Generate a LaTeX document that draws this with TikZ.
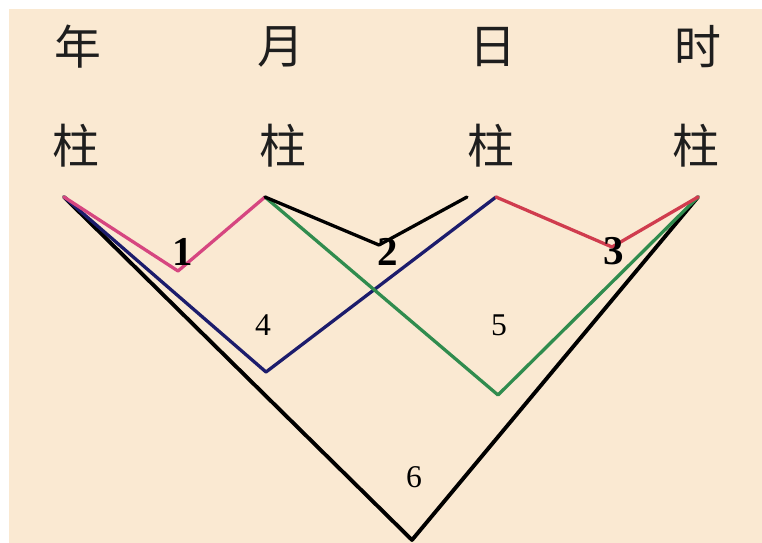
\documentclass[tikz,border=0pt]{standalone}
\usepackage{fontspec}
\setmainfont{Liberation Serif}
\newfontfamily\cjk{Noto Sans CJK SC}
\definecolor{bg_beige}{RGB}{250,233,210}
\definecolor{zhu_pink}{RGB}{214,70,128}
\definecolor{zhu_red}{RGB}{208,60,78}
\definecolor{zhu_blue}{RGB}{28,28,108}
\definecolor{zhu_green}{RGB}{48,140,78}
\definecolor{zhu_ink}{RGB}{30,30,30}

\begin{document}
\begin{tikzpicture}[x=0.03cm, y=-0.03cm,
        zi/.style={font=\cjk\fontsize{40}{40}\selectfont,
                   text=zhu_ink, inner sep=0pt},
        big/.style={font=\fontsize{35}{35}\selectfont\bfseries,
                    inner sep=0pt},
        small/.style={font=\fontsize{27}{27}\selectfont, inner sep=0pt},
        link/.style={line width=2.8pt, line join=round, line cap=round},
      ]
        \fill[white] (0,0) rectangle (762,543);
        \fill[bg_beige] (9,9) rectangle (762,543);
        \useasboundingbox (0,0) rectangle (762,543);

        \node[zi] (nian) at (78,47)  {年};
        \node[zi] (yue)  at (281,47) {月};
        \node[zi] (ri)   at (493,47) {日};
        \node[zi] (shi)  at (698,47) {时};
        \node[zi] (z1) at (76,146)  {柱};
        \node[zi] (z2) at (283,146) {柱};
        \node[zi] (z3) at (491,146) {柱};
        \node[zi] (z4) at (696,146) {柱};

        \coordinate (p1) at (64,197);
        \coordinate (p2) at (265,197);
        \coordinate (p3) at (496,197);
        \coordinate (p4) at (698,197);
        \coordinate (e2) at (467,197);

        \coordinate (v1) at (178,271);
        \coordinate (v2) at (379,245);
        \coordinate (v3) at (612,247);
        \coordinate (v4) at (266,372);
        \coordinate (v5) at (498,395);
        \coordinate (v6) at (412,540);

        \draw[link, black, line width=3.3pt] (p1) -- (v6) -- (p4);
        \draw[link, zhu_blue]  (p1) -- (v4) -- (p3);
        \draw[link, zhu_green] (p2) -- (v5) -- (p4);
        \draw[link, zhu_pink]  (p1) -- (v1) -- (p2);
        \draw[link, black]     (p2) -- (v2) -- (e2);
        \draw[link, zhu_red]   (p3) -- (v3) -- (p4);

        \node[big] (n1) at (183,252) {1};
        \node[big] (n2) at (388,252) {2};
        \node[big] (n3) at (614,251) {3};
        \node[small] (n4) at (263,325) {4};
        \node[small] (n5) at (499,325) {5};
        \node[small] (n6) at (414,477) {6};
      \end{tikzpicture}
\end{document}
